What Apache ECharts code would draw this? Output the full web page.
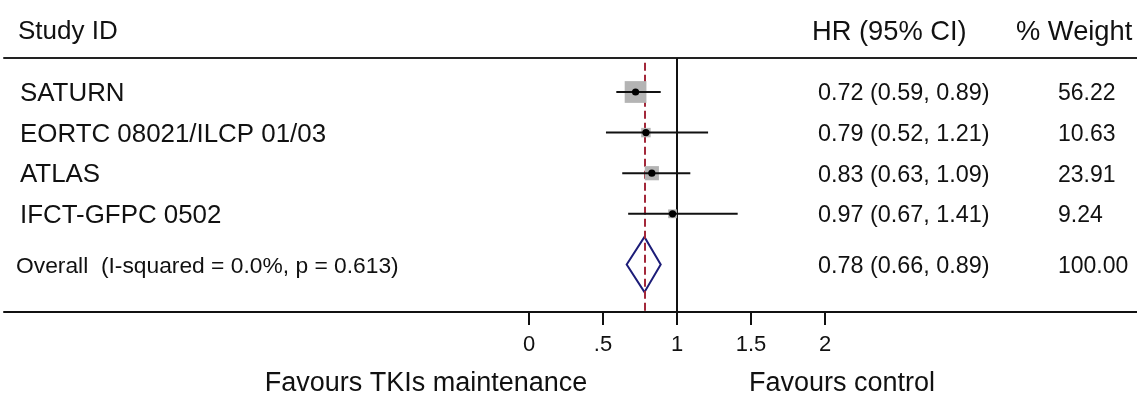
<!DOCTYPE html>
<html>
<head>
<meta charset="utf-8">
<script src="https://cdn.jsdelivr.net/npm/echarts@6/dist/echarts.min.js"></script>
<style>
html,body{margin:0;padding:0;background:#fff;}
#chart{width:1137px;height:397px;}
</style>
</head>
<body>
<div id="chart"></div>
<script>
// ---- data ----
const studies = ['SATURN', 'EORTC 08021/ILCP 01/03', 'ATLAS', 'IFCT-GFPC 0502'];
const hr = [0.72, 0.79, 0.83, 0.97];
const ciLow = [0.59, 0.52, 0.63, 0.67];
const ciHigh = [0.89, 1.21, 1.09, 1.41];
const weights = [56.22, 10.63, 23.91, 9.24];
const overallLabel = 'Overall  (I-squared = 0.0%, p = 0.613)';
const overallEstimate = [0.78, 0.66, 0.89]; // HR, low, high
const overallWeight = 100.00;
const tickValues = [0, 0.5, 1, 1.5, 2];
const tickLabels = ['0', '.5', '1', '1.5', '2'];
const headers = ['Study ID', 'HR (95% CI)', '% Weight'];
const favours = ['Favours TKIs maintenance', 'Favours control'];

// ---- layout ----
const W = 1137, H = 397;
const FONT = '"Liberation Sans", Arial, sans-serif';
const gridLeft = 4, gridTop = 58, gridBottomPx = 312;
const zeroPx = 529, unitPx = 148;
const xMin = (gridLeft - zeroPx) / unitPx;
const xMax = (W - zeroPx) / unitPx;
const rowPx = 40.6, firstRowPx = 92;
const yMin = 1 - (firstRowPx - gridTop) / rowPx;
const yMax = 1 + (gridBottomPx - firstRowPx) / rowPx;
const overallRow = studies.length + 1.25;
const TEXT_DY = 2;

const fmt = v => v.toFixed(2);
const studyData = studies.map((s, i) => [hr[i], ciLow[i], ciHigh[i], weights[i], i + 1]);

const chart = echarts.init(document.getElementById('chart'), null, {renderer: 'canvas'});

function txt(x, y, text, size, align) {
  return {type: 'text', x: x, y: y + TEXT_DY, silent: true,
    style: {text: text, font: size + 'px ' + FONT, fill: '#111', align: align || 'left', verticalAlign: 'middle'}};
}

const option = {
  backgroundColor: '#fff',
  animation: false,
  grid: {left: gridLeft, right: 0, top: gridTop, bottom: H - gridBottomPx, containLabel: false},
  xAxis: [{
    type: 'value', min: xMin, max: xMax, position: 'bottom',
    axisLine: {show: true, lineStyle: {color: '#111', width: 2}},
    axisTick: {show: true, customValues: tickValues, length: 13, lineStyle: {color: '#111', width: 2}},
    axisLabel: {show: true, customValues: tickValues, margin: 22,
      formatter: v => tickLabels[tickValues.indexOf(v)] ?? '',
      fontFamily: FONT, fontSize: 22, color: '#111'},
    splitLine: {show: false}
  }, {
    type: 'value', min: xMin, max: xMax, position: 'top',
    axisLine: {show: true, lineStyle: {color: '#222', width: 2}},
    axisTick: {show: false}, axisLabel: {show: false}, splitLine: {show: false}
  }],
  yAxis: {
    type: 'value', inverse: true, min: yMin, max: yMax, show: false
  },
  graphic: [
    txt(18, 30, headers[0], 26),
    txt(812, 30, headers[1], 27.3),
    txt(1016, 30, headers[2], 27.3),
    txt(426, 382, favours[0], 27, 'center'),
    txt(842, 382, favours[1], 27, 'center')
  ],
  series: [
    {
      type: 'custom', name: 'overall', z: 2,
      data: [[overallEstimate[0], overallEstimate[1], overallEstimate[2], overallWeight, overallRow]],
      renderItem: function (params, api) {
        const y = api.value(4);
        const c = api.coord([api.value(0), y]);
        const l = api.coord([api.value(1), y]);
        const h = api.coord([api.value(2), y]);
        const t = api.coord([api.value(0), y - 0.68]);
        const b = api.coord([api.value(0), y + 0.68]);
        return {type: 'group', children: [
          {type: 'polygon', shape: {points: [l, t, h, b]},
            style: {fill: 'none', stroke: '#1c1c78', lineWidth: 2}},
          txt(16, c[1], overallLabel, 22.8),
          txt(818, c[1], fmt(api.value(0)) + ' (' + fmt(api.value(1)) + ', ' + fmt(api.value(2)) + ')', 23.4),
          txt(1058, c[1], fmt(api.value(3)), 23)
        ]};
      },
      markLine: {
        silent: true, symbol: 'none', label: {show: false},
        data: [
          [{coord: [1, yMin]}, {coord: [1, yMax], lineStyle: {color: '#111', width: 2, type: 'solid'}}],
          [{coord: [overallEstimate[0], yMin + 0.12]}, {coord: [overallEstimate[0], yMax], lineStyle: {color: '#a3283a', width: 2, type: [8, 4]}}]
        ]
      }
    },
    {
      type: 'custom', name: 'studies', z: 5,
      data: studyData,
      renderItem: function (params, api) {
        const i = params.dataIndex;
        const y = api.value(4);
        const c = api.coord([api.value(0), y]);
        const l = api.coord([api.value(1), y]);
        const h = api.coord([api.value(2), y]);
        const s = 2.9 * Math.sqrt(api.value(3));
        return {type: 'group', children: [
          {type: 'rect', shape: {x: c[0] - s / 2, y: c[1] - s / 2, width: s, height: s}, style: {fill: '#b4b4b4'}},
          {type: 'line', shape: {x1: l[0], y1: l[1], x2: h[0], y2: h[1]}, style: {stroke: '#111', lineWidth: 2}},
          {type: 'circle', shape: {cx: c[0], cy: c[1], r: 3.6}, style: {fill: '#000'}},
          txt(20, c[1], studies[i], 25.9),
          txt(818, c[1], fmt(api.value(0)) + ' (' + fmt(api.value(1)) + ', ' + fmt(api.value(2)) + ')', 23.4),
          txt(1058, c[1], fmt(api.value(3)), 23)
        ]};
      }
    }
  ]
};
chart.setOption(option);
</script>
</body>
</html>
